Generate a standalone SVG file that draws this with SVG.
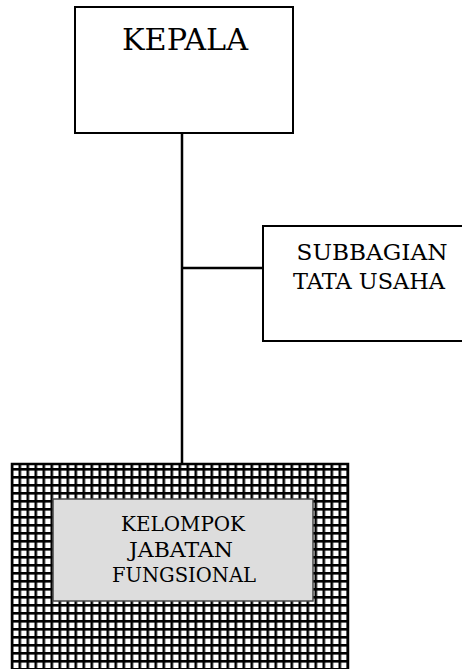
<svg xmlns="http://www.w3.org/2000/svg" width="462" height="669" viewBox="0 0 462 669">
<style>
.box{fill:#fff;stroke:#000;stroke-width:2}
.t{font-family:"DejaVu Serif","Liberation Serif",serif;fill:#000;text-anchor:middle}
.conn{stroke:#000;stroke-width:2.5;fill:none}
</style>
<defs>
<pattern id="grid" patternUnits="userSpaceOnUse" x="10.5" y="468" width="8" height="8">
<rect width="8" height="8" fill="#fff"/>
<rect x="0" y="0" width="2.6" height="8" fill="#000"/>
<rect x="0" y="0" width="8" height="2.6" fill="#000"/>
</pattern>
</defs>
<g id="connectors">
<line class="conn" x1="182" y1="133" x2="182" y2="464"/>
<line class="conn" x1="182" y1="268" x2="263" y2="268"/>
</g>
<g id="kepala">
<rect class="box" x="75" y="7" width="218" height="126"/>
<text class="t" x="185" y="50" font-size="30.5" textLength="126" lengthAdjust="spacingAndGlyphs">KEPALA</text>
</g>
<g id="subbagian">
<rect class="box" x="263" y="226" width="210" height="115"/>
<text class="t" x="372" y="260" font-size="22" textLength="151" lengthAdjust="spacingAndGlyphs">SUBBAGIAN</text>
<text class="t" x="369" y="289" font-size="22" textLength="152" lengthAdjust="spacingAndGlyphs">TATA USAHA</text>
</g>
<g id="kelompok">
<rect x="12" y="464" width="336" height="215" fill="url(#grid)" stroke="#000" stroke-width="2.5"/>
<rect x="53" y="499" width="260" height="102" fill="#dddddd" stroke="#444" stroke-width="1.5"/>
<text class="t" x="183" y="531" font-size="20.5" textLength="124" lengthAdjust="spacingAndGlyphs">KELOMPOK</text>
<text class="t" x="181" y="557" font-size="20.5" textLength="104" lengthAdjust="spacingAndGlyphs">JABATAN</text>
<text class="t" x="184" y="582" font-size="20.5" textLength="144" lengthAdjust="spacingAndGlyphs">FUNGSIONAL</text>
</g>
</svg>
